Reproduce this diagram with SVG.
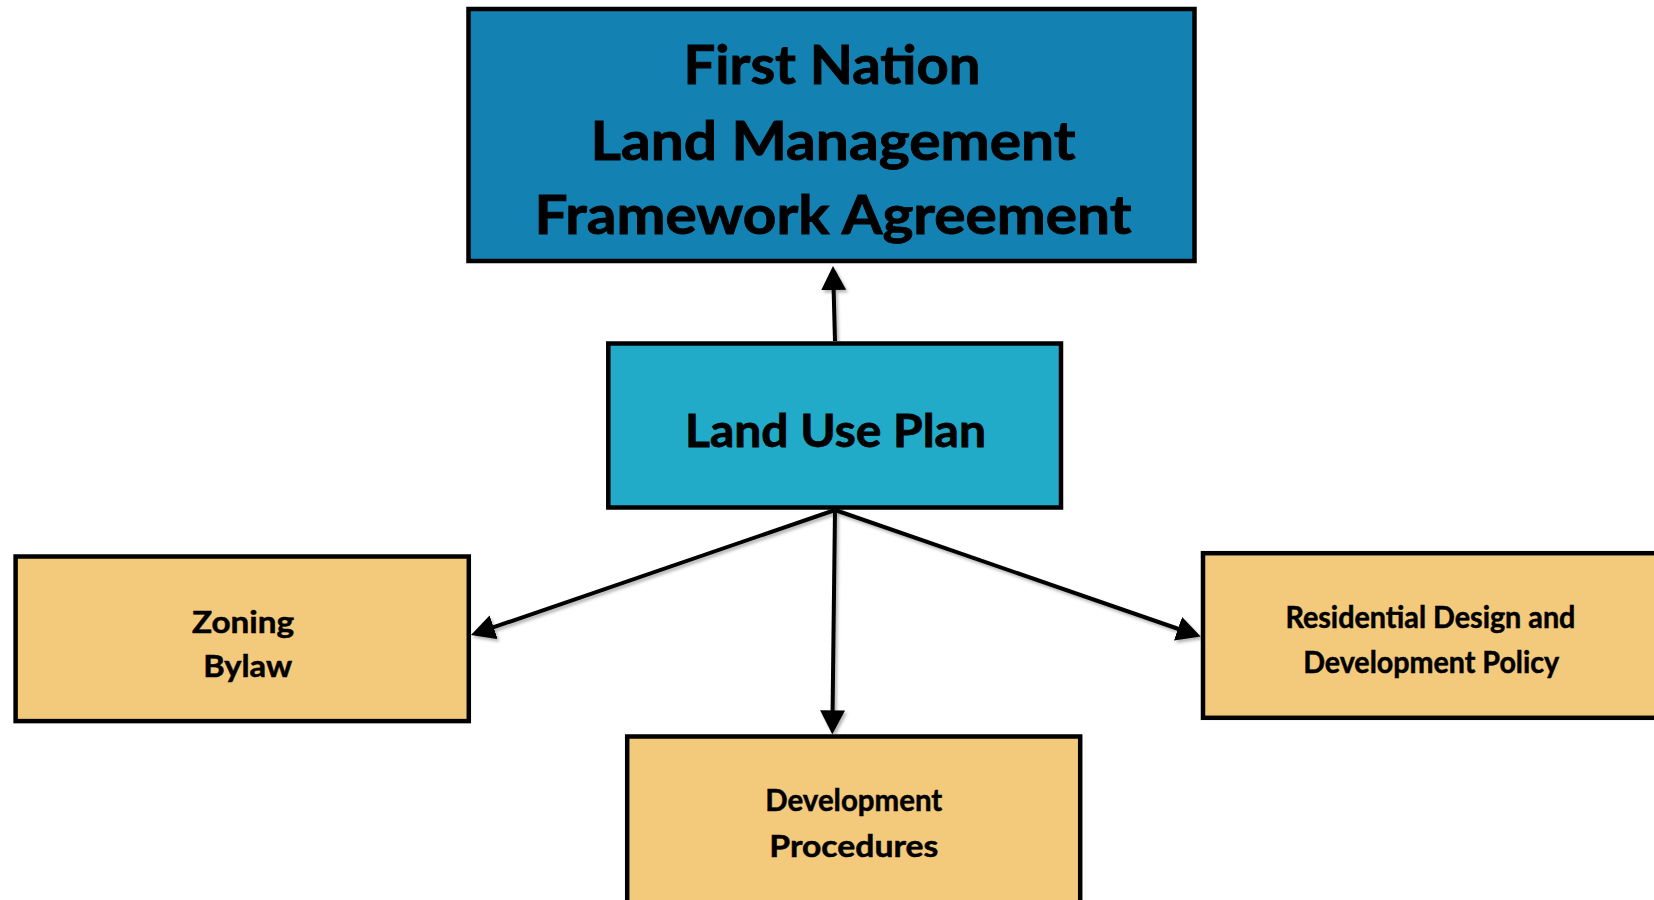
<svg xmlns="http://www.w3.org/2000/svg" width="1654" height="900" viewBox="0 0 1654 900">
  <defs>
    <style>
      .box { stroke: #000; stroke-width: 4.5; }
      .framework { fill: #1382B2; }
      .plan { fill: #22ABC9; }
      .doc { fill: #F3C97B; }
      .label { font-family: Lato, "Open Sans", "Liberation Sans", sans-serif; font-weight: bold; fill: #000; stroke: #000; text-anchor: middle; }
      .big { font-size: 53px; stroke-width: 0.9; }
      .mid { font-size: 46.5px; stroke-width: 0.8; }
      .small { font-size: 30px; stroke-width: 0.5; }
      .link { stroke: #000; stroke-width: 4; fill: none; marker-end: url(#arrow); }
    </style>
    <marker id="arrow" markerUnits="userSpaceOnUse" viewBox="0 0 24 25" markerWidth="24" markerHeight="25" refX="16" refY="12.5" orient="auto">
      <path d="M0,0 L24,12.5 L0,25 Z" fill="#000"/>
    </marker>
    <filter id="shadow" x="-10%" y="-10%" width="120%" height="120%">
      <feDropShadow dx="2" dy="2.5" stdDeviation="1.5" flood-color="#000" flood-opacity="0.3"/>
    </filter>
  </defs>

  <rect width="1654" height="900" fill="#fff"/>

  <!-- connectors: lines stop 8px short, the marker tip reaches the box edge -->
  <g id="connectors" filter="url(#shadow)">
    <line class="link" x1="835" y1="341" x2="833.2" y2="274"/>
    <line class="link" x1="835" y1="510" x2="478.5" y2="632.4"/>
    <line class="link" x1="835" y1="510" x2="832.4" y2="726.3"/>
    <line class="link" x1="835" y1="510" x2="1193.1" y2="634"/>
  </g>

  <g id="framework-agreement">
    <rect class="box framework" x="468.5" y="9" width="726" height="252"/>
    <text class="label big" x="832" y="84" textLength="297" lengthAdjust="spacingAndGlyphs">First Nation</text>
    <text class="label big" x="833" y="159.5" textLength="485" lengthAdjust="spacingAndGlyphs">Land Management</text>
    <text class="label big" x="833" y="234" textLength="597" lengthAdjust="spacingAndGlyphs">Framework Agreement</text>
  </g>

  <g id="land-use-plan">
    <rect class="box plan" x="608.3" y="343.5" width="452.7" height="164"/>
    <text class="label mid" x="835.5" y="446.7" textLength="301" lengthAdjust="spacingAndGlyphs">Land Use Plan</text>
  </g>

  <g id="zoning-bylaw">
    <rect class="box doc" x="15.6" y="556.5" width="453.2" height="164.6"/>
    <text class="label small" x="243" y="633.3" textLength="102" lengthAdjust="spacingAndGlyphs">Zoning</text>
    <text class="label small" x="247.7" y="676.7" textLength="89" lengthAdjust="spacingAndGlyphs">Bylaw</text>
  </g>

  <g id="development-procedures">
    <rect class="box doc" x="627.2" y="736.5" width="453" height="200"/>
    <text class="label small" x="853.8" y="810.7" textLength="177" lengthAdjust="spacingAndGlyphs">Development</text>
    <text class="label small" x="853.8" y="856.7" textLength="169" lengthAdjust="spacingAndGlyphs">Procedures</text>
  </g>

  <g id="residential-policy">
    <rect class="box doc" x="1203" y="553.2" width="460" height="164.6"/>
    <text class="label small" x="1430.4" y="627.7" textLength="290" lengthAdjust="spacingAndGlyphs">Residential Design and</text>
    <text class="label small" x="1431.2" y="673.3" textLength="256" lengthAdjust="spacingAndGlyphs">Development Policy</text>
  </g>
</svg>
